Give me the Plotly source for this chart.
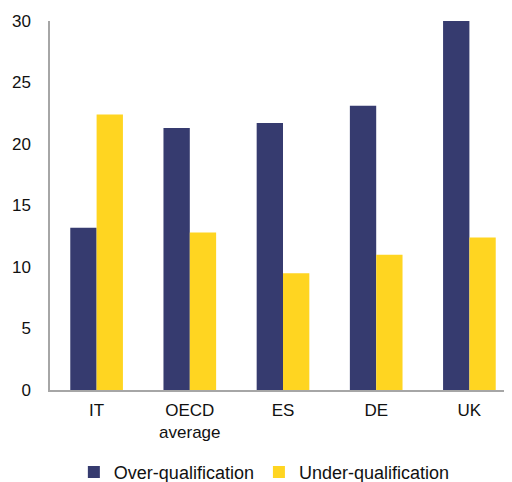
import plotly.graph_objects as go

categories = ["IT", "OECD<br>average", "ES", "DE", "UK"]
over_qualification = [13.2, 21.3, 21.7, 23.1, 30.0]
under_qualification = [22.4, 12.8, 9.5, 11.0, 12.4]

NAVY = "#363B6F"
YELLOW = "#FFD521"

fig = go.Figure()
fig.add_trace(go.Bar(x=categories, y=over_qualification, name="Over-qualification",
                     marker=dict(color=NAVY, line=dict(width=0))))
fig.add_trace(go.Bar(x=categories, y=under_qualification, name="Under-qualification",
                     marker=dict(color=YELLOW, line=dict(width=0))))

# figure is a bit larger than the window on purpose: the original chart is
# cropped on the right and the legend runs into the bottom edge
fig.update_layout(
    width=512,
    height=490,
    barmode="group",
    bargap=0.435,
    bargroupgap=0,
    margin=dict(l=36, r=4, t=12, b=108),
    plot_bgcolor="white",
    paper_bgcolor="white",
    font=dict(family="Liberation Sans, Arial, sans-serif", size=17, color="#111111"),
    showlegend=True,
    legend=dict(orientation="h", x=0.46, xanchor="center", y=-0.173, yanchor="top",
                font=dict(size=18), itemwidth=30, traceorder="normal"),
    xaxis=dict(showline=True, linecolor="#A6A6A6", linewidth=1.5,
               ticks="", showgrid=False, ticklabelstandoff=4),
    yaxis=dict(range=[0, 30], dtick=5, showline=True, linecolor="#A6A6A6", linewidth=1.5,
               showgrid=False, zeroline=False, ticks="", ticklabelstandoff=14),
)

fig.write_html("out.html", config={"displayModeBar": False})
